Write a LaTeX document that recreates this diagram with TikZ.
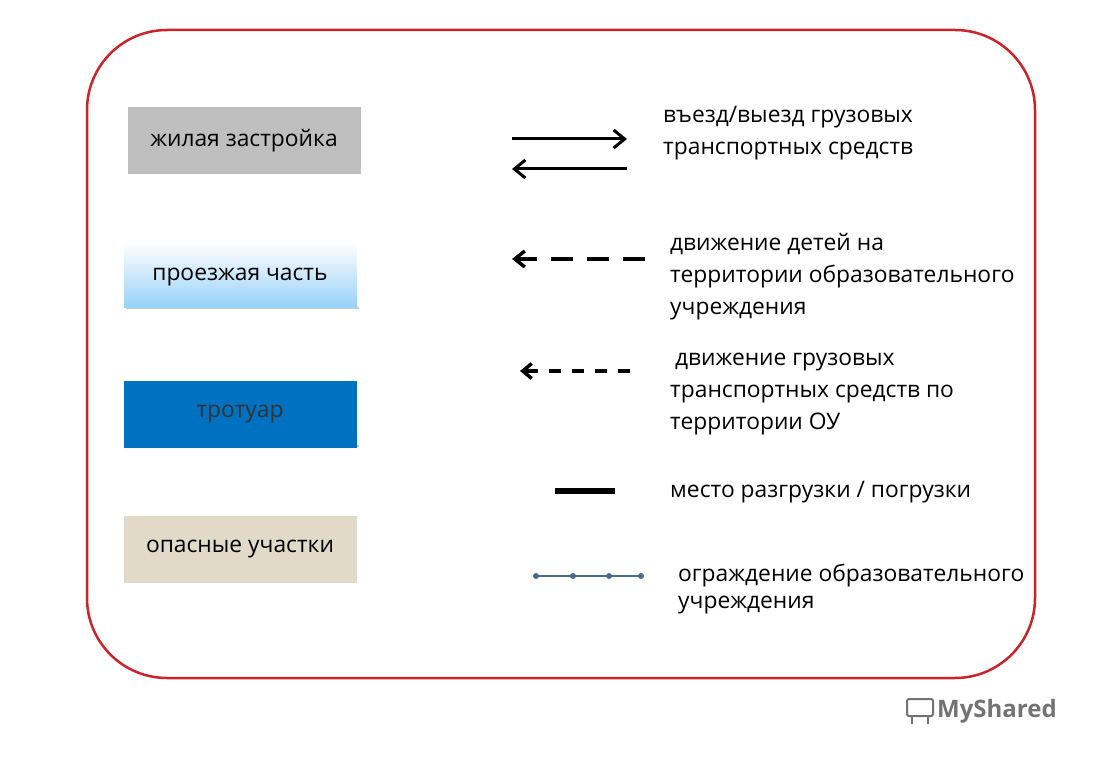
\documentclass[tikz,border=0pt]{standalone}
\usepackage{fontspec}
\setmainfont{Open Sans}
\usetikzlibrary{arrows.meta}
\definecolor{redb}{HTML}{CC2229}
\definecolor{dotc}{HTML}{4A6A94}
\begin{document}
\begin{tikzpicture}[x=1pt,y=-1pt,
  lab/.style={anchor=north west,align=left,font=\fontsize{22.8}{32}\selectfont,inner sep=0pt},
  box/.style={minimum width=233pt,minimum height=67pt,inner sep=0pt,font=\fontsize{22.8}{24}\selectfont}]
\useasboundingbox[fill=white] (0,0) rectangle (1096,757);
\draw[redb,line width=2.5pt,rounded corners=80pt] (87,30) rectangle (1035,678);
\node[box,fill=black!25] (b1) at (244,141) {жилая застройка};
\fill[black!20] (126,307) rectangle (359,309);
\shade[top color=white,bottom color={rgb,255:red,150;green,210;blue,250},middle color={rgb,255:red,205;green,232;blue,252}] (124,242) rectangle (357,307);
\node[box] (b2) at (240,277) {проезжая часть};
\fill[black!20] (126,445) rectangle (359,447);
\node[box,fill={rgb,255:red,0;green,112;blue,192},text=black!80] (b3) at (240,414) {тротуар};
\node[box,fill={rgb,255:red,226;green,218;blue,200}] (b4) at (240,549) {опасные участки};
\coordinate (a1s) at (512,139); \coordinate (a1e) at (627,139);
\coordinate (a2s) at (627,169); \coordinate (a2e) at (512,169);
\draw[line width=3pt,-{Straight Barb[length=11pt,width=18pt,line width=3pt]}] (a1s) -- (a1e);
\draw[line width=3pt,-{Straight Barb[length=11pt,width=18pt,line width=3pt]}] (a2s) -- (a2e);
\coordinate (a3s) at (645,259); \coordinate (a3e) at (512,259);
\draw[line width=3.5pt,dash pattern=on 22pt off 14pt,-{Straight Barb[length=10pt,width=16pt,line width=3.5pt]}] (a3s) -- (a3e);
\coordinate (a4s) at (630,371); \coordinate (a4e) at (520,371);
\draw[line width=3.5pt,dash pattern=on 12pt off 11pt,-{Straight Barb[length=9pt,width=15pt,line width=3.5pt]}] (a4s) -- (a4e);
\coordinate (a5s) at (555,491); \coordinate (a5e) at (615,491);
\draw[line width=6pt] (a5s) -- (a5e);
\coordinate (a6s) at (536,576); \coordinate (a6e) at (641,576);
\draw[dotc,line width=1.5pt] (a6s) -- (a6e);
\foreach \x in {536,573,609,641} \fill[dotc] (\x,576) circle (3pt);
\node[lab] (t1) at (663,106) {въезд/выезд  грузовых\\транспортных средств};
\node[lab] (t2) at (670,233) {движение детей  на\\территории образовательного\\учреждения};
\node[lab] (t3) at (675,353) {движение грузовых};
\node[lab] (t3b) at (670,385) {транспортных средств по\\территории ОУ};
\node[lab] (t4) at (670,481) {место разгрузки / погрузки};
\node[lab] (t5) at (678,564) {ограждение образовательного};
\node[lab] (t5b) at (678,596) {учреждения};
\draw[black!55,line width=2pt,rounded corners=2pt] (907,699) rectangle (933,716);
\draw[black!55,line width=2pt] (912,716) -- (912,724) (928,716) -- (928,724);
\node[anchor=west,text=black!55,font=\fontsize{24}{28}\selectfont\bfseries,inner sep=0pt] (logo) at (937,711) {MyShared};
\end{tikzpicture}
\end{document}
